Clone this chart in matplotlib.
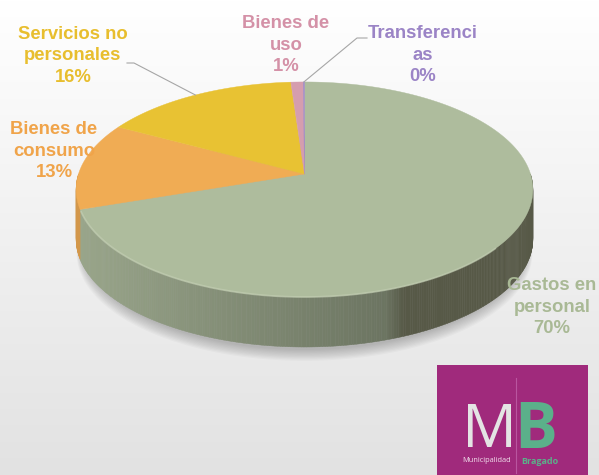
import numpy as np
import matplotlib
matplotlib.use('Agg')
import matplotlib.pyplot as plt
from matplotlib.patches import Polygon, Rectangle

# Datos del gráfico (orden horario desde las 12)
categorias = ['Gastos en\npersonal', 'Bienes de\nconsumo', 'Servicios no\npersonales',
              'Bienes de\nuso', 'Transferenci\nas']
valores = [69.8, 13.1, 16.0, 1.0, 0.1]
colores = ['#AEBC9D', '#F0AC54', '#E8C233', '#D59DAE', '#9E88C6']
colores_texto = ['#A9B995', '#F0A44A', '#E8BE2E', '#D491A7', '#9B84C6']

# posición de las etiquetas (centro del bloque de texto, en píxeles)
pos_etiquetas = [(552, 307), (54, 151), (73, 56), (286, 45), (423, 55)]
# líneas guía: (índice, inicio junto al texto, codo)
guias = [(2, (127, 63), (134, 63)), (4, (367, 38), (357, 38))]

# Geometría del pastel 3D (perspectiva simple)
CX, CY = 304.5, 174.0
A, K, P = 226.0, 105.3, 0.144
DEPTH = 50.0


def proj(th, dz=0.0):
    X, Y = np.cos(th), np.sin(th)
    s = 1 + P * Y
    return CX + A * X / s, CY - K * Y / s + dz


def sombreado(base, x):
    # lado claro a la izquierda, oscuro casi plano a la derecha
    t = np.clip((x - (CX - A)) / (2 * A), 0, 1)
    oscuro = np.array([0.34, 0.35, 0.28])
    if t < 0.68:
        return base * (0.88 - 0.26 * t / 0.68)
    w = min(1.0, (t - 0.68) / 0.04)
    return (1 - w) * base * 0.62 + w * oscuro


fig = plt.figure(figsize=(5.99, 4.75), dpi=100)
ax = fig.add_axes([0, 0, 1, 1])
ax.set_xlim(0, 599)
ax.set_ylim(475, 0)
ax.axis('off')

# fondo degradado
g = np.linspace(255, 226, 475) / 255.0
fondo = np.repeat(g[:, None, None], 3, axis=2)
ax.imshow(fondo, extent=[0, 599, 475, 0], aspect='auto', zorder=0)

# sombra (sobre todo hacia abajo)
th_all = np.linspace(0, 2 * np.pi, 300)
for i in range(10):
    xs, ys = proj(th_all, DEPTH + 3 + i * 1.2)
    xs = CX + (xs - CX) * (0.98 + 0.002 * i)
    ax.add_patch(Polygon(np.column_stack([xs, ys]), closed=True, color='black',
                         alpha=0.025, lw=0, zorder=1))

# ángulos de cada porción
total = sum(valores)
cum = np.concatenate([[0], np.cumsum(valores)]) / total
th_ini = np.pi / 2 - 2 * np.pi * cum[:-1]
th_fin = np.pi / 2 - 2 * np.pi * cum[1:]

# lados (solo la mitad frontal, ángulos entre pi y 2pi)
for i in range(len(valores)):
    hi_t, lo_t = th_ini[i], th_fin[i]
    base = np.array(matplotlib.colors.to_rgb(colores[i]))
    for shift in (0, 2 * np.pi, -2 * np.pi):
        lo, hi = max(lo_t + shift, np.pi), min(hi_t + shift, 2 * np.pi)
        if hi <= lo:
            continue
        n = max(2, int((hi - lo) / 0.01))
        ts = np.linspace(lo, hi, n + 1)
        for ta, tb in zip(ts[:-1], ts[1:]):
            xa, ya = proj(ta)
            xb, yb = proj(tb)
            c = sombreado(base, (xa + xb) / 2)
            quad = [(xa, ya), (xb, yb), (xb, yb + DEPTH), (xa, ya + DEPTH)]
            ax.add_patch(Polygon(quad, closed=True, facecolor=c, edgecolor=c,
                                 lw=0.3, zorder=2))

# cara superior
for i in range(len(valores)):
    ts = np.linspace(th_ini[i], th_fin[i], max(3, int(abs(th_fin[i] - th_ini[i]) / 0.01)))
    xs, ys = proj(ts)
    pts = np.vstack([[CX, CY], np.column_stack([xs, ys])])
    ax.add_patch(Polygon(pts, closed=True, facecolor=colores[i], edgecolor=colores[i],
                         lw=0.3, zorder=3))

# borde iluminado del frente
ts = np.linspace(np.radians(200), np.radians(320), 200)
xs, ys = proj(ts)
ax.plot(xs, ys, color='#C6D1B6', lw=1.3, alpha=0.6, zorder=4)

# líneas guía
for i, p0, p1 in guias:
    mid = (th_ini[i] + th_fin[i]) / 2
    ex, ey = proj(mid)
    ax.plot([p0[0], p1[0], ex], [p0[1], p1[1], ey], color='#A6A6A6', lw=0.8, zorder=5)

# etiquetas
for i, (x, y) in enumerate(pos_etiquetas):
    ax.text(x, y, f"{categorias[i]}\n{round(valores[i])}%", ha='center', va='center',
            multialignment='center', fontsize=13.3, fontweight='bold',
            family='Liberation Sans', color=colores_texto[i], linespacing=1.32, zorder=6)

# logo
ax.add_patch(Rectangle((437, 365), 151, 110, facecolor='#A02A7C', edgecolor='none', zorder=7))
ax.plot([516, 516], [378, 473], color='#B955A0', lw=0.8, zorder=8)
ax.text(489, 431, 'M', ha='center', va='center', fontsize=44, family='Open Sans',
        color='#E4E4E4', zorder=8)
ax.text(536, 431, 'B', ha='center', va='center', fontsize=46, family='Open Sans',
        fontweight='bold', color='#5BB08A', zorder=8)
ax.text(511, 461, 'Municipalidad', ha='right', va='center', fontsize=5.3,
        family='Open Sans', color='#F0E0EC', zorder=8)
ax.text(521, 461, 'Bragado', ha='left', va='center', fontsize=6.5,
        family='Open Sans', fontweight='bold', color='#5BB08A', zorder=8)

fig.savefig('out.png', dpi=100)
